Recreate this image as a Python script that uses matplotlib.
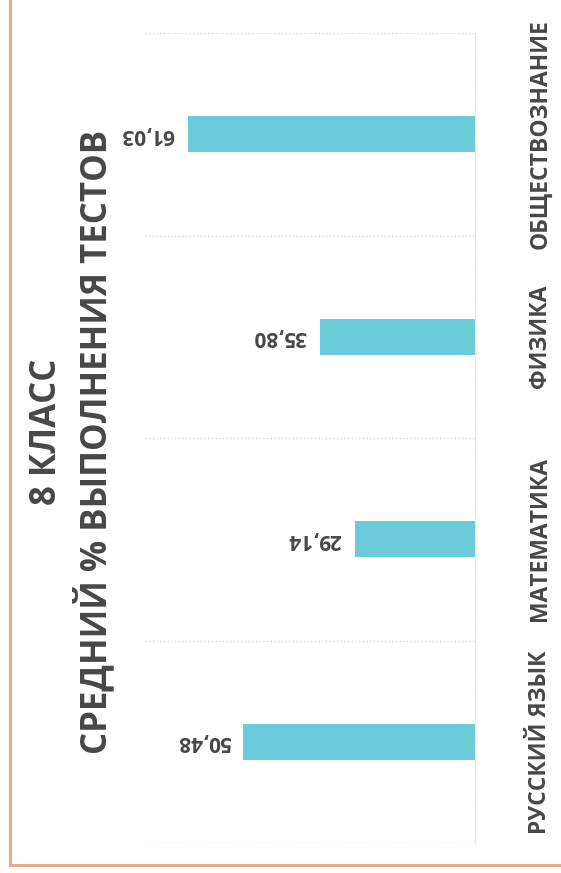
import matplotlib
matplotlib.use('Agg')
import matplotlib.pyplot as plt
from matplotlib.lines import Line2D
import numpy as np

plt.rcParams['font.family'] = ['Open Sans', 'DejaVu Sans']

# data (bottom to top, as on the rotated scan)
subjects = ['РУССКИЙ ЯЗЫК', 'МАТЕМАТИКА', 'ФИЗИКА', 'ОБЩЕСТВОЗНАНИЕ']
scores = [50.48, 29.14, 35.80, 61.03]
score_labels = ['50,48', '29,14', '35,80', '61,03']
title_lines = ['8 КЛАСС', 'СРЕДНИЙ % ВЫПОЛНЕНИЯ ТЕСТОВ']

bar_color = '#6ccbd9'
text_color = '#474747'
border_color = '#e9a47f'

fig = plt.figure(figsize=(5.61, 8.73), dpi=100)
W, H = 561, 873
ax = fig.add_axes([145 / W, 1 - 843 / H, (475 - 145) / W, (843 - 33) / H])

y = np.arange(len(subjects))
ax.barh(y, scores, height=0.18, color=bar_color, zorder=2)

# value axis runs right-to-left (the scan is rotated)
ax.set_xlim(69.2, 6.2)
ax.set_ylim(-0.5, len(subjects) - 0.5)

for yi, v, lab in zip(y, scores, score_labels):
    ax.text(v + 2.6, yi, lab, rotation=180, ha='right', va='center',
            fontsize=15, fontweight='bold', color=text_color)

# category separators as faint dotted lines
ax.set_yticks(np.arange(-0.5, len(subjects)), minor=True)
ax.grid(True, which='minor', axis='y', color='#d8d8d8', linestyle=':', linewidth=1)
ax.tick_params(which='both', left=False, bottom=False, labelleft=False, labelbottom=False)
ax.set_yticks([])
for s in ['top', 'bottom', 'left']:
    ax.spines[s].set_visible(False)
ax.spines['right'].set_color('#e0e0e0')
ax.spines['right'].set_linestyle(':')

# category labels on the right, rotated
for yi, name in zip(y, subjects):
    ax.annotate(name, xy=(1, yi), xycoords=('axes fraction', 'data'),
                xytext=(47, 0), textcoords='offset points',
                rotation=90, ha='center', va='center',
                fontsize=16.5, fontweight='bold', color=text_color)

# title, two rotated lines on the left
fig.text(47 / W, 1 - 432 / H, title_lines[0], rotation=90, ha='center', va='center',
         fontsize=25, fontweight='bold', color=text_color)
fig.text(94 / W, 1 - 442 / H, title_lines[1], rotation=90, ha='center', va='center',
         fontsize=25, fontweight='bold', color=text_color)

# page border
fig.add_artist(Line2D([10 / W, 10 / W], [1 - 865 / H, 1.0], color=border_color, linewidth=2))
fig.add_artist(Line2D([10 / W, 1.0], [1 - 865 / H, 1 - 865 / H], color=border_color, linewidth=2))

fig.savefig('out.png', dpi=100)
